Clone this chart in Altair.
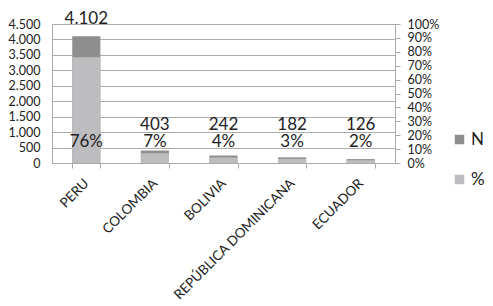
import altair as alt
import pandas as pd

countries = ["PERU", "COLOMBIA", "BOLIVIA", "REPÚBLICA DOMINICANA", "ECUADOR"]
n_values = [4102, 403, 242, 182, 126]
pct_values = [0.76, 0.07, 0.04, 0.03, 0.02]
series_names = ["N", "%"]

df = pd.DataFrame({"country": countries, "N": n_values, "pct": pct_values})

FONT = "Lato"
DARK = "#8e8e8e"
LIGHT = "#bdbdc0"
GRID = "#ababab"

x_axis = alt.Axis(
    labelAngle=-45,
    labelAlign="right",
    labelBaseline="middle",
    labelPadding=13,
    labelFontSize=13.5,
    labelFont=FONT,
    labelColor="#222222",
    labelOverlap=False,
    labelLimit=300,
    tickBand="extent",
    tickSize=5,
    tickColor=GRID,
    domainColor=GRID,
    grid=False,
)
x_scale = alt.Scale(paddingInner=0.59, paddingOuter=0.295)


def x_enc():
    return alt.X("country:N", sort=countries, title=None, scale=x_scale, axis=x_axis)


n_axis = alt.Axis(
    values=list(range(0, 4501, 500)),
    labelExpr="replace(format(datum.value, ','), ',', '.')",
    labelFontSize=12.5,
    labelFont=FONT,
    labelColor="#222222",
    labelPadding=12,
    labelOverlap=False,
    ticks=False,
    grid=True,
    gridColor=GRID,
    domainColor=GRID,
)
n_scale = alt.Scale(domain=[0, 4500])

p_axis = alt.Axis(
    orient="right",
    format=".0%",
    values=[i / 10 for i in range(11)],
    labelFontSize=12.5,
    labelFont=FONT,
    labelColor="#222222",
    labelOverlap=False,
    tickSize=5,
    tickColor=GRID,
    domainColor=GRID,
    grid=False,
    labelPadding=7,
)
p_scale = alt.Scale(domain=[0, 1])

color_scale = alt.Scale(domain=series_names, range=[DARK, LIGHT])
legend = alt.Legend(
    title=None,
    orient="none",
    legendX=399,
    legendY=107,
    symbolType="square",
    symbolSize=90,
    symbolStrokeWidth=0,
    labelFontSize=17,
    labelFont=FONT,
    labelColor="#222222",
    rowPadding=22,
    labelOffset=3,
)

base = alt.Chart(df)

bar_n = base.transform_calculate(series="'N'").mark_bar().encode(
    x=x_enc(),
    y=alt.Y("N:Q", title=None, scale=n_scale, axis=n_axis),
    color=alt.Color("series:N", scale=color_scale, legend=legend),
)

text_n = base.transform_calculate(
    ly="max(datum.N + 560, 1230)",
    lbl="replace(format(datum.N, ','), ',', '.')",
).mark_text(fontSize=17, font=FONT, color="#222222", baseline="middle").encode(
    x=x_enc(),
    y=alt.Y("ly:Q", title=None, scale=n_scale, axis=n_axis),
    text="lbl:N",
)

bar_p = base.transform_calculate(series="'%'").mark_bar().encode(
    x=x_enc(),
    y=alt.Y("pct:Q", title=None, scale=p_scale, axis=p_axis),
    color=alt.Color("series:N", scale=color_scale, legend=legend),
)

text_p = base.transform_calculate(
    ly="0.15",
    lbl="format(datum.pct, '.0%')",
).mark_text(fontSize=17, font=FONT, color="#222222", baseline="middle").encode(
    x=x_enc(),
    y=alt.Y("ly:Q", title=None, scale=p_scale, axis=p_axis),
    text="lbl:N",
)

chart = (
    alt.layer(alt.layer(bar_n, text_n), alt.layer(bar_p, text_p))
    .resolve_scale(y="independent")
    .properties(
        width=343,
        height=139,
        autosize=alt.AutoSizeParams(type="none"),
        padding={"left": 44, "top": 16, "right": 90, "bottom": 140},
    )
    .configure_view(stroke=None)
    .configure(background="white")
)

chart.save("out.html", embed_options={"renderer": "svg", "actions": False})
